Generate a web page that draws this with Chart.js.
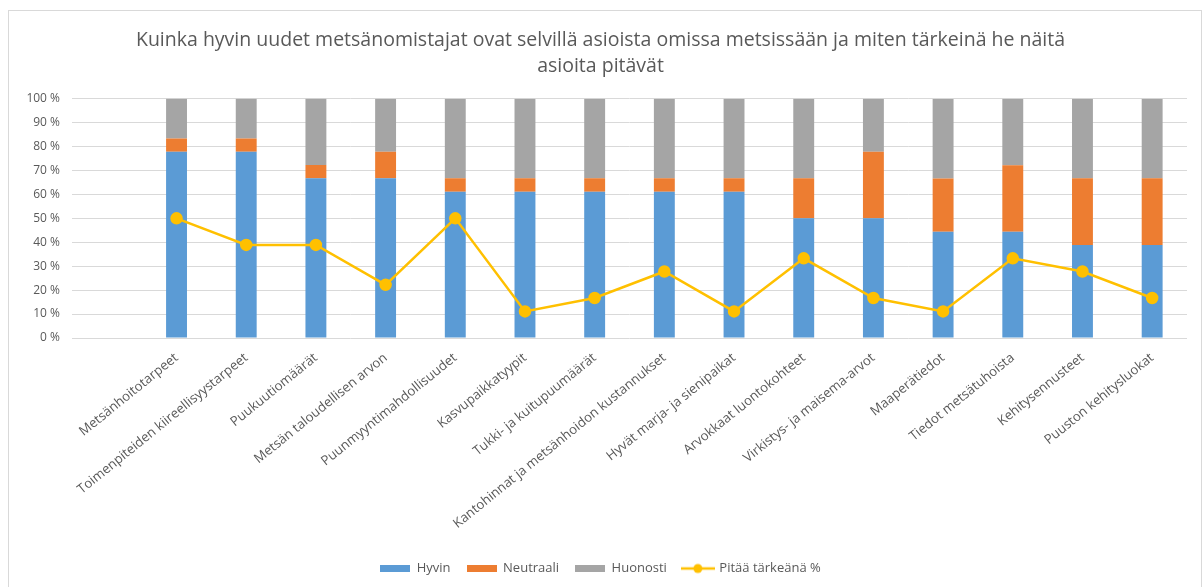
<!DOCTYPE html>
<html>
<head>
<meta charset="utf-8">
<script src="https://cdn.jsdelivr.net/npm/chart.js@4/dist/chart.umd.min.js"></script>
<style>
  html, body { margin: 0; padding: 0; background: #fff; }
  #wrap { position: relative; width: 1204px; height: 587px; overflow: hidden; }
  #frame { position: absolute; left: 8px; top: 10px; width: 1194px; height: 600px; border: 1px solid #D9D9D9; box-sizing: border-box; pointer-events: none; }
  canvas { position: absolute; left: 0; top: 0; }
</style>
</head>
<body>
<div id="wrap">
  <canvas id="c" width="1204" height="587"></canvas>
  <div id="frame"></div>
</div>
<script>
// ---- data ----
const categories = [
  "",
  "Metsänhoitotarpeet",
  "Toimenpiteiden kiireellisyystarpeet",
  "Puukuutiomäärät",
  "Metsän taloudellisen arvon",
  "Puunmyyntimahdollisuudet",
  "Kasvupaikkatyypit",
  "Tukki- ja kuitupuumäärät",
  "Kantohinnat ja metsänhoidon kustannukset",
  "Hyvät marja- ja sienipaikat",
  "Arvokkaat luontokohteet",
  "Virkistys- ja maisema-arvot",
  "Maaperätiedot",
  "Tiedot metsätuhoista",
  "Kehitysennusteet",
  "Puuston kehitysluokat"
];
const hyvin     = [null, 77.8, 77.8, 66.7, 66.7, 61.1, 61.1, 61.1, 61.1, 61.1, 50.0, 50.0, 44.4, 44.4, 38.9, 38.9];
const neutraali = [null,  5.6,  5.6,  5.6, 11.1,  5.6,  5.6,  5.6,  5.6,  5.6, 16.7, 27.8, 22.2, 27.8, 27.8, 27.8];
const huonosti  = [null, 16.7, 16.7, 27.8, 22.2, 33.3, 33.3, 33.3, 33.3, 33.3, 33.3, 22.2, 33.3, 27.8, 33.3, 33.3];
const tarkea    = [null, 50.0, 38.9, 38.9, 22.2, 50.0, 11.1, 16.7, 27.8, 11.1, 33.3, 16.7, 11.1, 33.3, 27.8, 16.7];
const seriesNames = ["Hyvin", "Neutraali", "Huonosti", "Pitää tärkeänä %"];
const yTicks = [0, 10, 20, 30, 40, 50, 60, 70, 80, 90, 100];
const titleLines = [
  "Kuinka hyvin uudet metsänomistajat ovat selvillä asioista omissa metsissään ja miten tärkeinä he näitä",
  "asioita pitävät"
];

// ---- styles ----
const BLUE = "#5B9BD5", ORANGE = "#ED7D31", GRAY = "#A5A5A5", GOLD = "#FFC000";
const TXT = "#595959";
const FONT = "'Open Sans', Lato, sans-serif";

function boxIcon(color) {
  const c = document.createElement("canvas");
  c.width = 30; c.height = 7;
  const g = c.getContext("2d");
  g.fillStyle = color; g.fillRect(0, 0, 30, 7);
  return c;
}
function lineIcon(color) {
  const c = document.createElement("canvas");
  c.width = 34; c.height = 12;
  const g = c.getContext("2d");
  g.strokeStyle = color; g.lineWidth = 2.5;
  g.beginPath(); g.moveTo(0, 6); g.lineTo(34, 6); g.stroke();
  g.fillStyle = color;
  g.beginPath(); g.arc(17, 6, 4.5, 0, Math.PI * 2); g.fill();
  return c;
}
const icons = [boxIcon(BLUE), boxIcon(ORANGE), boxIcon(GRAY), lineIcon(GOLD)];

const barCommon = { type: "bar", order: 1, barPercentage: 0.6, categoryPercentage: 0.5, borderWidth: 0 };

new Chart(document.getElementById("c"), {
  data: {
    labels: categories,
    datasets: [
      Object.assign({ label: seriesNames[0], data: hyvin, backgroundColor: BLUE }, barCommon),
      Object.assign({ label: seriesNames[1], data: neutraali, backgroundColor: ORANGE }, barCommon),
      Object.assign({ label: seriesNames[2], data: huonosti, backgroundColor: GRAY }, barCommon),
      {
        type: "line", order: 0, label: seriesNames[3], data: tarkea,
        borderColor: GOLD, backgroundColor: GOLD, borderWidth: 2.5,
        pointRadius: 5, pointBackgroundColor: GOLD, pointBorderColor: GOLD,
        tension: 0, spanGaps: false
      }
    ]
  },
  options: {
    responsive: false,
    animation: false,
    devicePixelRatio: 1,
    layout: { padding: { top: 12, left: 14, right: 17, bottom: 2 } },
    plugins: {
      tooltip: { enabled: false },
      title: {
        display: true,
        text: titleLines,
        color: TXT,
        font: { family: FONT, size: 19.5, weight: "normal", lineHeight: 1.35 },
        padding: { top: 15, bottom: 19 }
      },
      legend: {
        position: "bottom",
        labels: {
          color: TXT,
          font: { family: FONT, size: 13 },
          usePointStyle: true,
          pointStyleWidth: 30,
          boxHeight: 12,
          padding: 16,
          sort: (a, b) => a.datasetIndex - b.datasetIndex,
          generateLabels(chart) {
            const items = Chart.defaults.plugins.legend.labels.generateLabels(chart);
            items.forEach(it => { it.pointStyle = icons[it.datasetIndex]; });
            return items;
          }
        }
      }
    },
    scales: {
      x: {
        stacked: true,
        grid: { display: false },
        border: { display: false },
        ticks: {
          autoSkip: false, maxRotation: 39, minRotation: 39,
          color: TXT, font: { family: FONT, size: 13.2 }, padding: 4
        },
        afterFit(scale) { scale.height = 208; }
      },
      y: {
        stacked: true,
        min: 0, max: 100,
        afterBuildTicks(scale) { scale.ticks = yTicks.map(v => ({ value: v })); },
        grid: { color: "#D9D9D9", lineWidth: 1, drawTicks: false },
        border: { display: false },
        ticks: {
          color: TXT, font: { family: FONT, size: 12 }, padding: 12,
          callback: v => v + " %"
        },
        afterFit(scale) { scale.width = 58; }
      }
    }
  }
});
</script>
</body>
</html>
